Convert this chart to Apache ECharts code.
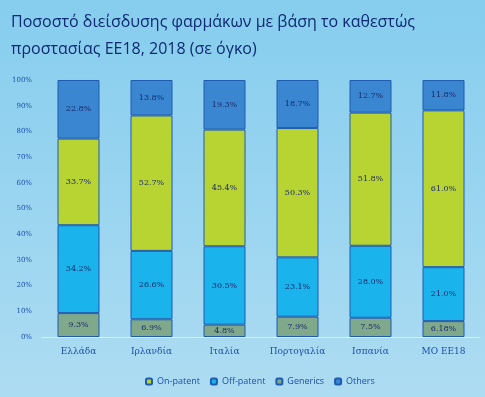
<!DOCTYPE html>
<html>
<head>
<meta charset="utf-8">
<script src="https://cdn.jsdelivr.net/npm/echarts@6/dist/echarts.min.js"></script>
<style>
html, body { margin: 0; padding: 0; }
#chart { width: 485px; height: 397px; }
</style>
</head>
<body>
<div id="chart"></div>
<script>
var countries = ['Ελλάδα', 'Ιρλανδία', 'Ιταλία', 'Πορτογαλία', 'Ισπανία', 'ΜΟ ΕΕ18'];
var generics = [9.3, 6.9, 4.8, 7.9, 7.5, 6.18];
var offPatent = [34.2, 26.6, 30.5, 23.1, 28.0, 21.0];
var onPatent = [33.7, 52.7, 45.4, 50.3, 51.8, 61.0];
var others = [22.8, 13.8, 19.3, 18.7, 12.7, 11.8];

var chart = echarts.init(document.getElementById('chart'));

function fmt(p) {
    return (p.value === 6.18 ? '6.18' : p.value.toFixed(1)) + '%';
}

function bar(name, data, color, z) {
    return {
        name: name,
        type: 'bar',
        stack: 'total',
        barWidth: 42,
        data: data,
        z: z,
        itemStyle: {
            color: color,
            borderColor: '#1f5bb0',
            borderWidth: 1
        },
        label: {
            show: true,
            position: 'inside',
            formatter: fmt,
            fontSize: 8,
            fontFamily: 'DejaVu Serif',
            color: '#1a2a6a'
        }
    };
}

var option = {
    backgroundColor: {
        type: 'linear', x: 0, y: 0, x2: 0, y2: 1,
        colorStops: [{ offset: 0, color: '#86cdee' }, { offset: 1, color: '#addcf2' }]
    },
    title: {
        text: 'Ποσοστό διείσδυσης φαρμάκων με βάση το καθεστώς\nπροστασίας ΕΕ18, 2018 (σε όγκο)',
        left: 6,
        top: 4,
        textStyle: {
            color: '#0f2a72',
            fontSize: 16,
            fontWeight: 'normal',
            fontFamily: 'Open Sans',
            lineHeight: 27
        }
    },
    legend: {
        data: ['On-patent', 'Off-patent', 'Generics', 'Others'],
        bottom: 6,
        left: 140,
        itemWidth: 6,
        itemHeight: 6,
        itemGap: 10,
        textStyle: { color: '#1d4fae', fontSize: 9, fontFamily: 'Open Sans' }
    },
    grid: {
        left: 42,
        right: 5,
        top: 80,
        bottom: 60
    },
    xAxis: {
        type: 'category',
        data: countries,
        axisLine: { lineStyle: { color: '#d8eef8' } },
        axisTick: { show: false },
        axisLabel: { color: '#1d4fae', fontSize: 9, fontFamily: 'DejaVu Serif', margin: 10 }
    },
    yAxis: {
        type: 'value',
        min: 0,
        max: 100,
        interval: 10,
        axisLine: { show: false },
        axisTick: { show: false },
        splitLine: { show: false },
        axisLabel: {
            formatter: '{value}%',
            color: '#1d4fae',
            fontSize: 7,
            fontFamily: 'DejaVu Serif',
            margin: 10
        }
    },
    series: [
        bar('Generics', generics, '#80a88a', 4),
        bar('Off-patent', offPatent, '#1ab3ec', 3),
        bar('On-patent', onPatent, '#b8d432', 2),
        bar('Others', others, '#3a86d0', 1)
    ]
};

chart.setOption(option);
</script>
</body>
</html>
